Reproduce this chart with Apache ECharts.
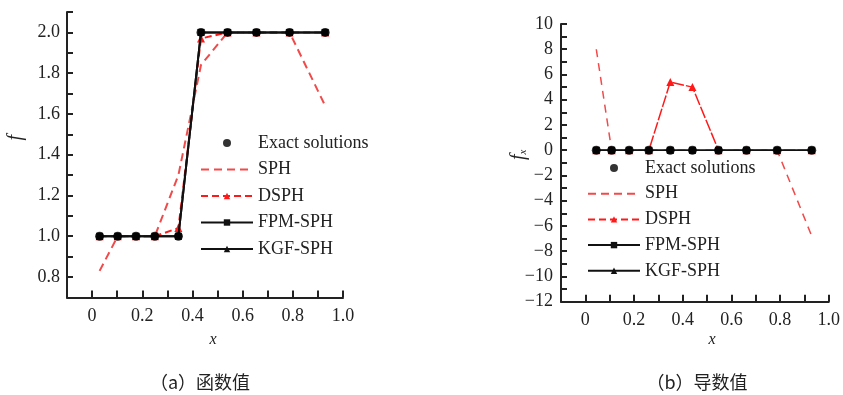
<!DOCTYPE html>
<html>
<head>
<meta charset="utf-8">
<script src="https://cdn.jsdelivr.net/npm/echarts@6/dist/echarts.min.js"></script>
<style>
html,body{margin:0;padding:0;background:#fff;}
#c{width:843px;height:395px;}
</style>
</head>
<body>
<div id="c"></div>
<script>
// ---- data (a) function values ----
const xA = [0.030, 0.102, 0.175, 0.250, 0.344, 0.434, 0.540, 0.655, 0.787, 0.929];
const exactA = [1, 1, 1, 1, 1, 2, 2, 2, 2, 2];
const sphA   = [0.83, 1.0, 1.0, 1.0, 1.30, 1.84, 2.0, 2.0, 2.0, 1.64];
const dsphA  = [1.0, 1.0, 1.0, 1.0, 1.04, 1.97, 2.0, 2.0, 2.0, 2.0];
const fpmA   = [1, 1, 1, 1, 1, 2, 2, 2, 2, 2];
const kgfA   = [1, 1, 1, 1, 1, 2, 2, 2, 2, 2];
// ---- data (b) derivative values ----
const xB = [0.045, 0.108, 0.180, 0.261, 0.349, 0.440, 0.547, 0.662, 0.788, 0.930];
const exactB = [0, 0, 0, 0, 0, 0, 0, 0, 0, 0];
const sphB   = [8, 0, 0, 0, 0, 0, 0, 0, 0, -6.8];
const dsphB  = [0, 0, 0, 0, 5.4, 5.0, 0, 0, 0, 0];
const fpmB   = [0, 0, 0, 0, 0, 0, 0, 0, 0, 0];
const kgfB   = [0, 0, 0, 0, 0, 0, 0, 0, 0, 0];
const seriesNames = ['Exact solutions', 'SPH', 'DSPH', 'FPM-SPH', 'KGF-SPH'];
const captions = ['（a）函数值', '（b）导数值'];

const pair = (xs, ys) => xs.map((x, i) => [x, ys[i]]);
const SERIF = '"Liberation Serif", "DejaVu Serif", serif';
const AX = '#222';

function xAxisCfg(gi) {
  return {
    gridIndex: gi, type: 'value', min: -0.1, max: 1.0, interval: 0.1,
    axisLine: {show: true, onZero: false, lineStyle: {color: AX, width: 2}},
    axisTick: {show: true, inside: true, length: 7, lineStyle: {color: AX, width: 2}},
    splitLine: {show: false},
    axisLabel: {
      color: AX, fontFamily: SERIF, fontSize: 18, margin: 10,
      formatter: v => {
        const t = Math.round(v * 10);
        if (t < 0 || t % 2 !== 0) return '';
        return t === 0 ? '0' : (t / 10).toFixed(1);
      }
    }
  };
}

function buildSeries(xi, yi, xs, ex, sph, dsph, fpm, kgf, thin) {
  const bw = thin ? 1.6 : 2;
  return [
    {name: 'SPH', type: 'line', xAxisIndex: xi, yAxisIndex: yi, data: pair(xs, sph),
     symbol: 'none', lineStyle: {color: '#f24a4a', width: thin ? 1.5 : 2, type: thin ? [8, 6] : [8, 5]},
     itemStyle: {color: '#f24a4a'}, z: 2},
    {name: 'DSPH', type: 'line', xAxisIndex: xi, yAxisIndex: yi, data: pair(xs, dsph),
     symbol: 'triangle', symbolSize: 8, lineStyle: {color: '#ff1a1a', width: thin ? 1.5 : 2, type: thin ? [12, 2] : [7, 4]},
     itemStyle: {color: '#ff1a1a'}, z: 3},
    {name: 'FPM-SPH', type: 'line', xAxisIndex: xi, yAxisIndex: yi, data: pair(xs, fpm),
     symbol: 'rect', symbolSize: 7, lineStyle: {color: '#111', width: bw},
     itemStyle: {color: '#111'}, z: 4},
    {name: 'KGF-SPH', type: 'line', xAxisIndex: xi, yAxisIndex: yi, data: pair(xs, kgf),
     symbol: 'triangle', symbolSize: 7, lineStyle: {color: '#111', width: bw},
     itemStyle: {color: '#111'}, z: 5},
    {name: 'Exact solutions', type: 'scatter', xAxisIndex: xi, yAxisIndex: yi, data: pair(xs, ex),
     symbol: 'circle', symbolSize: 9, itemStyle: {color: '#000'}, z: 6}
  ];
}

function legendCfg(left, top, gap) {
  return {
    data: seriesNames.map(n => n === 'SPH' ? {name: n, itemStyle: {opacity: 0}} : n),
    orient: 'vertical', left: left, top: top, padding: 0,
    itemWidth: 52, itemHeight: 8, itemGap: gap,
    textStyle: {fontFamily: SERIF, fontSize: 18, color: '#222', lineHeight: 18},
    selectedMode: false
  };
}

const chart = echarts.init(document.getElementById('c'), null, {renderer: 'canvas'});
chart.setOption({
  backgroundColor: '#fff',
  animation: false,
  grid: [
    {left: 67, right: 500, top: 12, bottom: 97.6},
    {left: 561, right: 10, top: 24, bottom: 93.3}
  ],
  xAxis: [xAxisCfg(0), xAxisCfg(1)],
  yAxis: [
    {gridIndex: 0, type: 'value', min: 0.7, max: 2.1, interval: 0.1,
     axisLine: {show: true, onZero: false, lineStyle: {color: AX, width: 2}},
     axisTick: {show: true, inside: true, length: 6, lineStyle: {color: AX, width: 2}},
     splitLine: {show: false},
     axisLabel: {color: AX, fontFamily: SERIF, fontSize: 18, margin: 7,
       formatter: v => { const t = Math.round(v * 10); return t % 2 === 0 ? (t / 10).toFixed(1) : ''; }}},
    {gridIndex: 1, type: 'value', min: -12, max: 10, interval: 1,
     axisLine: {show: true, onZero: false, lineStyle: {color: AX, width: 2}},
     axisTick: {show: true, inside: true, length: 6, lineStyle: {color: AX, width: 2}},
     splitLine: {show: false},
     axisLabel: {color: AX, fontFamily: SERIF, fontSize: 18, margin: 8,
       formatter: v => { const t = Math.round(v); return t % 2 === 0 ? (t < 0 ? '\u2212' + (-t) : String(t)) : ''; }}}
  ],
  legend: [legendCfg(200, 134, 8.5), legendCfg(587, 159, 7.7)],
  series: [].concat(
    buildSeries(0, 0, xA, exactA, sphA, dsphA, fpmA, kgfA, false),
    buildSeries(1, 1, xB, exactB, sphB, dsphB, fpmB, kgfB, true)
  ),
  graphic: [
    {type: 'text', left: 6, top: 135, rotation: Math.PI / 2,
     style: {text: 'f', font: 'italic 20px ' + SERIF, fill: '#222'}},
    {type: 'text', x: 509, y: 160, rotation: Math.PI / 2,
     style: {text: '{a|f}{b|x}', rich: {a: {font: 'italic 20px ' + SERIF, fill: '#222'}, b: {font: 'italic 11px ' + SERIF, fill: '#222', verticalAlign: 'bottom', padding: [8, 0, 0, 0]}}}},
    {type: 'text', x: 213, y: 340, style: {text: 'x', font: 'italic 16px ' + SERIF, fill: '#222', align: 'center', verticalAlign: 'middle'}},
    {type: 'text', x: 712, y: 340, style: {text: 'x', font: 'italic 16px ' + SERIF, fill: '#222', align: 'center', verticalAlign: 'middle'}},
    {type: 'text', x: 200, y: 382, style: {text: captions[0], font: '18px "Noto Sans CJK SC", sans-serif', fill: '#222', align: 'center', verticalAlign: 'middle'}},
    {type: 'text', x: 697, y: 382, style: {text: captions[1], font: '18px "Noto Sans CJK SC", sans-serif', fill: '#222', align: 'center', verticalAlign: 'middle'}}
  ]
});
</script>
</body>
</html>
